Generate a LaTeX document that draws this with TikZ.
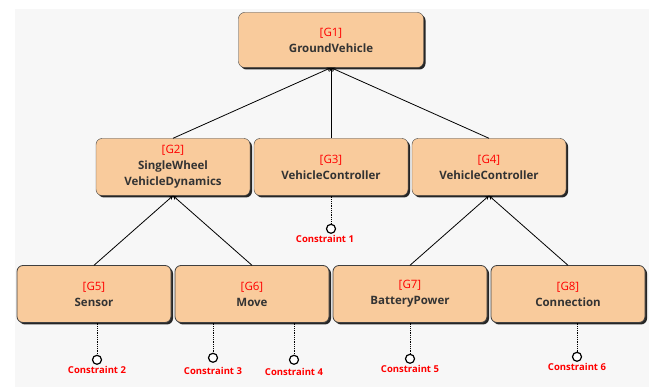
\documentclass[tikz,border=0pt]{standalone}
\usepackage{fontspec}
\setmainfont{Open Sans}
\usetikzlibrary{positioning,shadows}
\definecolor{goalfill}{HTML}{F9CB9C}
\definecolor{panel}{HTML}{F7F7F7}
\tikzset{
  goal/.style={draw=black!75, fill=goalfill, rounded corners=6pt,
    minimum width=154pt, minimum height=57pt, align=center,
    font=\bfseries\fontsize{11.5}{16}\selectfont, text=black!80,
    drop shadow={shadow xshift=2pt, shadow yshift=-2pt, fill=black!85, opacity=1}},
  knob/.style={circle, draw, very thick, fill=white, inner sep=0pt, minimum size=9pt},
  cname/.style={text=red, inner sep=1pt, font=\bfseries\fontsize{9.5}{11}\selectfont},
  conn/.style={densely dotted, thick}
}
\newcommand{\gid}[1]{\textcolor{red}{\mdseries[#1]}}
\begin{document}
\begin{tikzpicture}[x=1pt, y=1pt, level distance=127pt,
  level 1/.style={sibling distance=158pt},
  level 2/.style={sibling distance=158pt},
  edge from parent/.style={draw, thick, <-, >=stealth},
  parent anchor=south, child anchor=north]
  \useasboundingbox (0,0) rectangle (649,-387);
  \fill[panel] (15,-9) rectangle (649,-387);
  \node[goal, minimum width=185pt, minimum height=55pt] (g1) at (331,-40) {\gid{G1}\\GroundVehicle}
    child { node[goal] (g2) {\gid{G2}\\SingleWheel\\VehicleDynamics}
      child { node[goal] (g5) {\gid{G5}\\Sensor}}
      child { node[goal] (g6) {\gid{G6}\\Move}}
    }
    child { node[goal] (g3) {\gid{G3}\\VehicleController}}
    child { node[goal] (g4) {\gid{G4}\\VehicleController}
      child { node[goal] (g7) {\gid{G7}\\BatteryPower}}
      child { node[goal] (g8) {\gid{G8}\\Connection}}
    };
  \node[knob, below=28pt of g3] (k1) {};
  \node[knob, below=32pt of g5, xshift=3pt] (k2) {};
  \node[knob, below=30pt of g6, xshift=-39pt] (k3) {};
  \node[knob, below=32pt of g6, xshift=42pt] (k4) {};
  \node[knob, below=31pt of g7] (k5) {};
  \node[knob, below=29pt of g8, xshift=9pt] (k6) {};
  \node[cname, below=0pt of k1, xshift=-6pt] (c1) {Constraint 1};
  \node[cname, below=0pt of k2] (c2) {Constraint 2};
  \node[cname, below=3pt of k3] (c3) {Constraint 3};
  \node[cname, below=2pt of k4] (c4) {Constraint 4};
  \node[cname, below=0pt of k5] (c5) {Constraint 5};
  \node[cname, below=0pt of k6] (c6) {Constraint 6};
  \draw[conn] (g3) -- (k1);
  \draw[conn] (g5.south -| k2) -- (k2);
  \draw[conn] (g6.south -| k3) -- (k3);
  \draw[conn] (g6.south -| k4) -- (k4);
  \draw[conn] (g7) -- (k5);
  \draw[conn] (g8.south -| k6) -- (k6);
\end{tikzpicture}
\end{document}
